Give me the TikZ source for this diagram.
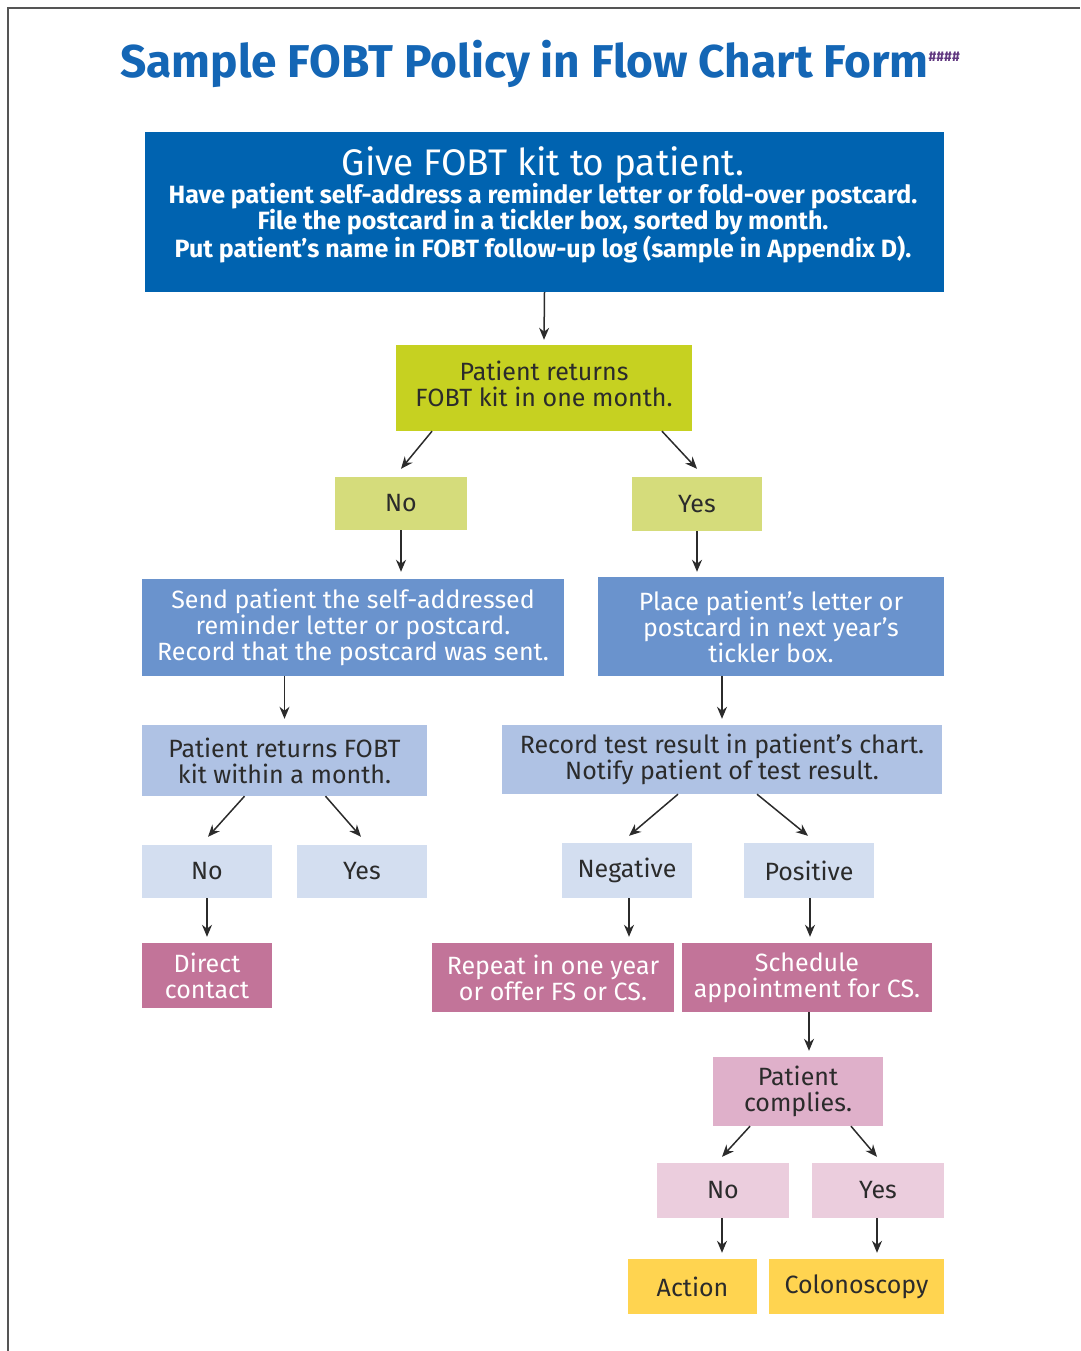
\documentclass[tikz,border=0pt]{standalone}
\usepackage{fontspec}
\setmainfont{Fira Sans}
\usetikzlibrary{arrows.meta,calc}

\definecolor{titleblue}{HTML}{1466B5}
\definecolor{topblue}{HTML}{0063B0}
\definecolor{limeA}{HTML}{C6D121}
\definecolor{limeB}{HTML}{D5DC7B}
\definecolor{blueA}{HTML}{6A93CD}
\definecolor{blueB}{HTML}{AFC2E4}
\definecolor{blueC}{HTML}{D3DEF0}
\definecolor{mauveA}{HTML}{C27499}
\definecolor{mauveB}{HTML}{DFB0CA}
\definecolor{mauveC}{HTML}{EBCDDD}
\definecolor{goldbox}{HTML}{FFD450}
\definecolor{inkdark}{HTML}{2B2B2B}
\definecolor{framegray}{HTML}{555555}

\tikzset{
  fbox/.style={inner sep=0pt, align=center, font=\fontsize{25}{26}\selectfont},
  darktext/.style={fbox, text=inkdark},
  lighttext/.style={fbox, text=white},
  arr/.style={draw=inkdark, line width=1.5pt, -{Stealth[length=12pt,width=10pt]}}
}

\begin{document}
\begin{tikzpicture}[x=1pt,y=-1pt]
  \useasboundingbox (0,0) rectangle (1080,1351);
  % page frame (top and left edges)
  \draw[framegray, line width=1.5pt] (8,1351) -- (8,8) -- (1080,8);

  % heading
  \node[text=titleblue, font=\bfseries\fontsize{46}{50}\selectfont, anchor=base] (title) at (540,78)
    {Sample FOBT Policy in Flow Chart Form\raisebox{16pt}{\fontsize{14}{14}\selectfont\color{titleblue!55!purple}\#\#\#\#}};

  % level 1
  \node[fill=topblue, minimum width=799, minimum height=160, inner sep=0pt] (give) at (544.5,212) {};
  \node[lighttext, font=\bfseries\fontsize{25}{26}\selectfont] (givetext) at (543,205)
    {{\mdseries\fontsize{37}{37}\selectfont Give FOBT kit to patient.}\\[-1pt]
     Have patient self-address a reminder letter or fold-over postcard.\\
     File the postcard in a tickler box, sorted by month.\\
     Put patient’s name in FOBT follow-up log (sample in Appendix D).};

  % level 2
  \node[fill=limeA, minimum width=296, minimum height=86, inner sep=0pt] (ret1) at (544,388) {};
  \node[darktext] (ret1text) at (544,384) {Patient returns\\FOBT kit in one month.};
  \node[darktext, fill=limeB, minimum width=132, minimum height=53] (no1) at (401,503.5) {No};
  \node[darktext, fill=limeB, minimum width=130, minimum height=54] (yes1) at (697,504) {Yes};

  % level 3
  \node[lighttext, fill=blueA, minimum width=422, minimum height=97] (send) at (353,627.5)
    {Send patient the self-addressed\\reminder letter or postcard.\\Record that the postcard was sent.};
  \node[lighttext, fill=blueA, minimum width=346, minimum height=99] (place) at (771,626.5)
    {Place patient’s letter or\\postcard in next year’s\\tickler box.};

  % level 4
  \node[darktext, fill=blueB, minimum width=285, minimum height=71] (ret2) at (284.5,760.5)
    {Patient returns FOBT\\kit within a month.};
  \node[darktext, fill=blueB, minimum width=440, minimum height=69] (record) at (722,759.5)
    {Record test result in patient’s chart.\\Notify patient of test result.};

  % level 5
  \node[darktext, fill=blueC, minimum width=130, minimum height=53] (no2) at (207,871.5) {No};
  \node[darktext, fill=blueC, minimum width=130, minimum height=53] (yes2) at (362,871.5) {Yes};
  \node[darktext, fill=blueC, minimum width=130, minimum height=55] (neg) at (627,870.5) {Negative};
  \node[darktext, fill=blueC, minimum width=130, minimum height=55] (pos) at (809,870.5) {Positive};

  % level 6
  \node[lighttext, fill=mauveA, minimum width=130, minimum height=65] (direct) at (207,975.5)
    {Direct\\contact};
  \node[lighttext, fill=mauveA, minimum width=242, minimum height=69] (repeat) at (553,977.5)
    {Repeat in one year\\or offer FS or CS.};
  \node[lighttext, fill=mauveA, minimum width=250, minimum height=69] (sched) at (807,977.5)
    {Schedule\\appointment for CS.};

  % level 7
  \node[darktext, fill=mauveB, minimum width=170, minimum height=69] (comply) at (798,1091.5)
    {Patient\\complies.};
  \node[darktext, fill=mauveC, minimum width=132, minimum height=55] (no3) at (723,1190.5) {No};
  \node[darktext, fill=mauveC, minimum width=132, minimum height=55] (yes3) at (878,1190.5) {Yes};

  % level 8
  \node[darktext, fill=goldbox, minimum width=129, minimum height=55] (action) at (692.5,1286.5) {Action};
  \node[darktext, fill=goldbox, minimum width=175, minimum height=55] (colon) at (856.5,1286.5) {Colonoscopy};

  % connectors
  \draw[arr] (give.south) -- ([yshift=5pt]ret1.north);
  \draw[arr] ([xshift=-112pt]ret1.south) -- ([yshift=8pt]no1.north);
  \draw[arr] ([xshift=118pt]ret1.south) -- ([yshift=8pt]yes1.north);
  \draw[arr] (no1.south) -- ([yshift=7pt]no1.south |- send.north);
  \draw[arr] (yes1.south) -- ([yshift=5pt]yes1.south |- place.north);
  \draw[arr] (send.south -| ret2.north) -- ([yshift=6pt]ret2.north);
  \draw[arr] (place.south -| record.north) -- ([yshift=6pt]record.north);
  \draw[arr] ([xshift=-40pt]ret2.south) -- ([xshift=1pt,yshift=8pt]no2.north);
  \draw[arr] ([xshift=41pt]ret2.south) -- ([xshift=-1pt,yshift=8pt]yes2.north);
  \draw[arr] ([xshift=-44pt]record.south) -- ([xshift=2pt,yshift=7pt]neg.north);
  \draw[arr] ([xshift=35pt]record.south) -- ([xshift=-1pt,yshift=7pt]pos.north);
  \draw[arr] (no2.south) -- ([yshift=6pt]direct.north);
  \draw[arr] ([xshift=2pt]neg.south) -- ([xshift=2pt,yshift=6pt]neg.south |- repeat.north);
  \draw[arr] ([xshift=1pt]pos.south) -- ([xshift=1pt,yshift=6pt]pos.south |- sched.north);
  \draw[arr] ([xshift=2pt]sched.south) -- ([xshift=2pt,yshift=6pt]sched.south |- comply.north);
  \draw[arr] ([xshift=-48pt]comply.south) -- ([xshift=-1pt,yshift=6pt]no3.north);
  \draw[arr] ([xshift=53pt]comply.south) -- ([xshift=-1pt,yshift=6pt]yes3.north);
  \draw[arr] ([xshift=-1pt]no3.south) -- ([xshift=-1pt,yshift=6pt]no3.south |- action.north);
  \draw[arr] ([xshift=-1pt]yes3.south) -- ([xshift=-1pt,yshift=6pt]yes3.south |- colon.north);
\end{tikzpicture}
\end{document}
